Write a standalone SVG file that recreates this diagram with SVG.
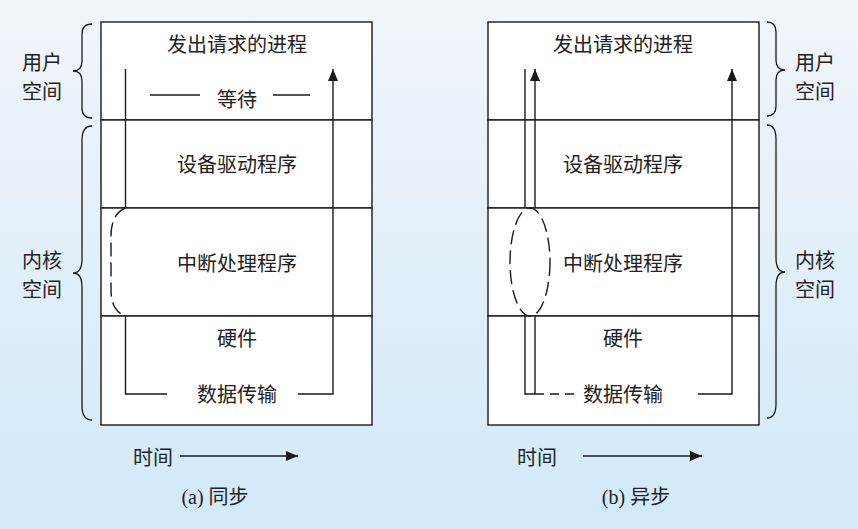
<svg xmlns="http://www.w3.org/2000/svg" width="858" height="529" viewBox="0 0 858 529">
<style>
.box{fill:#fff;stroke:#1a1a1a;stroke-width:1.4}
.t{font-family:"Noto Sans CJK SC","Noto Sans",sans-serif;font-size:20px;fill:#222;text-anchor:middle;dominant-baseline:central}
.cap{font-family:"Liberation Serif","Noto Sans CJK SC",serif;font-size:20px;fill:#222;text-anchor:middle;dominant-baseline:central}
.ln{fill:none;stroke:#1a1a1a;stroke-width:1.4}
.dash{fill:none;stroke:#1a1a1a;stroke-width:1.4;stroke-dasharray:14 6}
.sdash{fill:none;stroke:#1a1a1a;stroke-width:1.4;stroke-dasharray:9 6}
.br{fill:none;stroke:#1a1a1a;stroke-width:1.3}
</style>
<defs>
<linearGradient id="bg" x1="0" y1="0" x2="0" y2="1">
<stop offset="0" stop-color="#f1f5f9"/>
<stop offset="1" stop-color="#d1e9fa"/>
</linearGradient>
<marker id="ah" viewBox="0 0 12 10" refX="12" refY="5" markerWidth="12" markerHeight="10" markerUnits="userSpaceOnUse" orient="auto">
<path d="M0,0 L12,5 L0,10 Z" fill="#1a1a1a"/>
</marker>
</defs>
<rect x="0" y="0" width="858" height="529" fill="url(#bg)"/>

<!-- Left panel (a) -->
<g id="a-process"><rect class="box" x="101" y="22" width="271" height="98"/><text class="t" x="237" y="43">发出请求的进程</text></g>
<g id="a-driver"><rect class="box" x="101" y="120" width="271" height="88"/><text class="t" x="237" y="163">设备驱动程序</text></g>
<g id="a-interrupt"><rect class="box" x="101" y="208" width="271" height="108"/><text class="t" x="237" y="262">中断处理程序</text></g>
<g id="a-hardware"><rect class="box" x="101" y="316" width="271" height="109"/><text class="t" x="237" y="337">硬件</text></g>
<g id="a-wait"><text class="t" x="237" y="98">等待</text></g>
<g id="a-transfer"><text class="t" x="237" y="393">数据传输</text></g>

<!-- Right panel (b) -->
<g id="b-process"><rect class="box" x="488" y="22" width="271" height="98"/><text class="t" x="623" y="43">发出请求的进程</text></g>
<g id="b-driver"><rect class="box" x="488" y="120" width="271" height="88"/><text class="t" x="623" y="163">设备驱动程序</text></g>
<g id="b-interrupt"><rect class="box" x="488" y="208" width="271" height="108"/><text class="t" x="623" y="262">中断处理程序</text></g>
<g id="b-hardware"><rect class="box" x="488" y="316" width="271" height="109"/><text class="t" x="623" y="337">硬件</text></g>
<g id="b-transfer"><text class="t" x="623" y="393">数据传输</text></g>

<!-- Braces and side labels -->
<g id="a-user-space">
<path class="br" d="M92,24 Q82,24 82,34 L82,61 Q82,71 73,71 Q82,71 82,81 L82,108 Q82,118 92,118"/>
<text class="t" x="42" y="61">用户</text><text class="t" x="42" y="90">空间</text>
</g>
<g id="a-kernel-space">
<path class="br" d="M92,126 Q82,126 82,140 L82,259 Q82,273 73,273 Q82,273 82,287 L82,406 Q82,420 92,420"/>
<text class="t" x="42" y="259.5">内核</text><text class="t" x="42" y="288.5">空间</text>
</g>
<g id="b-user-space">
<path class="br" d="M767,22 Q776,22 776,32 L776,60 Q776,70 785,70 Q776,70 776,80 L776,106 Q776,116 767,116"/>
<text class="t" x="815" y="61">用户</text><text class="t" x="815" y="90">空间</text>
</g>
<g id="b-kernel-space">
<path class="br" d="M767,125 Q776,125 776,139 L776,258 Q776,272 785,272 Q776,272 776,286 L776,404 Q776,418 767,418"/>
<text class="t" x="815" y="259.5">内核</text><text class="t" x="815" y="288.5">空间</text>
</g>

<!-- Time axes and captions -->
<g id="a-time"><text class="t" x="153" y="456">时间</text></g>
<g id="b-time"><text class="t" x="537" y="456">时间</text></g>
<g id="a-caption"><text class="cap" x="215" y="497">(a) 同步</text></g>
<g id="b-caption"><text class="cap" x="636" y="497">(b) 异步</text></g>

<!-- Connectors -->
<g id="connectors">
<!-- (a) -->
<path class="ln" d="M125.5,69 L125.5,208"/>
<path class="dash" d="M125.5,208 Q111,214 111,236 L111,290 Q111,311 125.5,316"/>
<path class="ln" d="M125.5,316 L125.5,394 L167,394"/>
<path class="ln" d="M298,394 L333,394 L333,69" marker-end="url(#ah)"/>
<path class="ln" d="M150,95 L200,95"/>
<path class="ln" d="M273,95 L310,95"/>
<path class="ln" d="M180,456 L298,456" marker-end="url(#ah)"/>
<!-- (b) -->
<path class="ln" d="M525,69 L525,208"/>
<path class="ln" d="M535,208 L535,69" marker-end="url(#ah)"/>
<ellipse class="dash" cx="530" cy="262" rx="20" ry="54"/>
<path class="ln" d="M525,316 L525,394 L535,394 M535,316 L535,394"/>
<path class="sdash" d="M535,394 L574,394"/>
<path class="ln" d="M698,394 L732,394 L732,69" marker-end="url(#ah)"/>
<path class="ln" d="M583,456 L702,456" marker-end="url(#ah)"/>
</g>
</svg>
